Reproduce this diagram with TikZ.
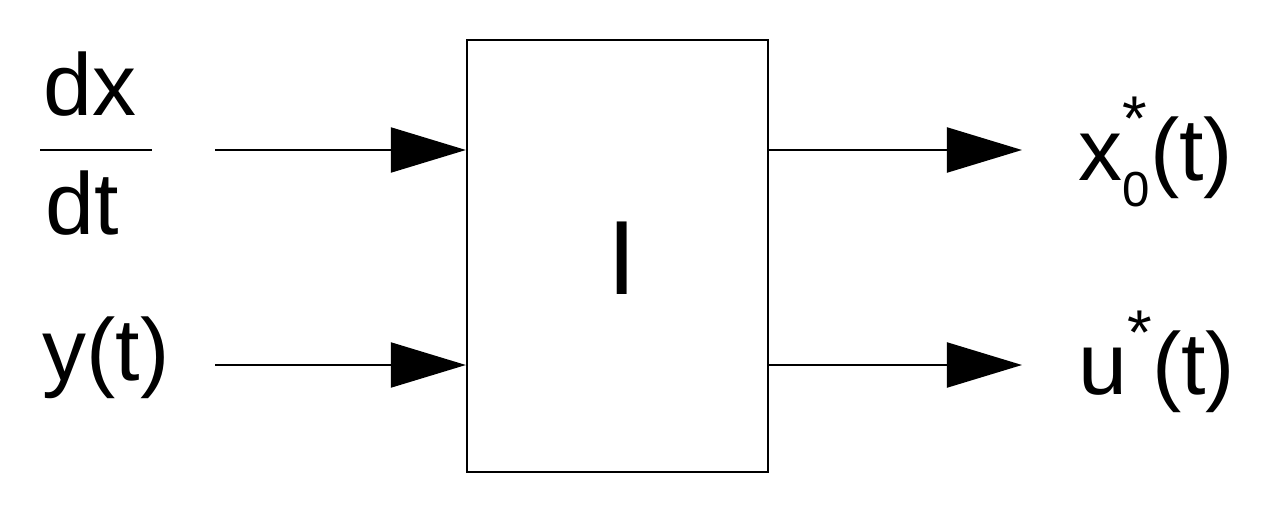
\documentclass[tikz,border=0pt]{standalone}
\usepackage{fontspec}
\setmainfont{Liberation Sans}
\usetikzlibrary{arrows.meta}
\newcommand{\supstar}{\raisebox{0.45em}{\fontsize{18}{20}\selectfont *}}
\begin{document}
\begin{tikzpicture}[x=0.01cm,y=-0.01cm,
  sig/.style={line width=0.6pt,-{Triangle[length=0.75cm,width=0.45cm]}},
  lbl/.style={inner sep=0pt,font=\fontsize{25}{29}\selectfont}]
\useasboundingbox (0,0) rectangle (1287,518);
\node[draw,line width=0.6pt,minimum width=3.01cm,minimum height=4.32cm,inner sep=0pt] (box) at (617.5,256) {};
\node[lbl,font=\fontsize{30}{34}\selectfont] (I) at (622,258) {I};
\coordinate (in1) at (215,150);
\coordinate (in2) at (215,365);
\coordinate (out1) at (1022,150);
\coordinate (out2) at (1022,365);
\draw[sig] (in1) -- (in1 -| box.west);
\draw[sig] (in2) -- (in2 -| box.west);
\draw[sig] (out1 -| box.east) -- (out1);
\draw[sig] (out2 -| box.east) -- (out2);
\node[lbl,anchor=base] (dx) at (90,115) {dx};
\node[lbl,anchor=base] (dt) at (82,235) {dt};
\coordinate (f1) at (40,150);
\coordinate (f2) at (152,150);
\draw[line width=0.6pt] (f1) -- (f2);
\node[lbl,anchor=west] (y) at (42,358) {y(t)};
\node[lbl,anchor=west] (x) at (1078,152) {x\rlap{\supstar}\raisebox{-0.3em}{\fontsize{14}{16}\selectfont 0}(t)};
\node[lbl,anchor=west] (u) at (1078,362) {u\supstar(t)};
\end{tikzpicture}
\end{document}
